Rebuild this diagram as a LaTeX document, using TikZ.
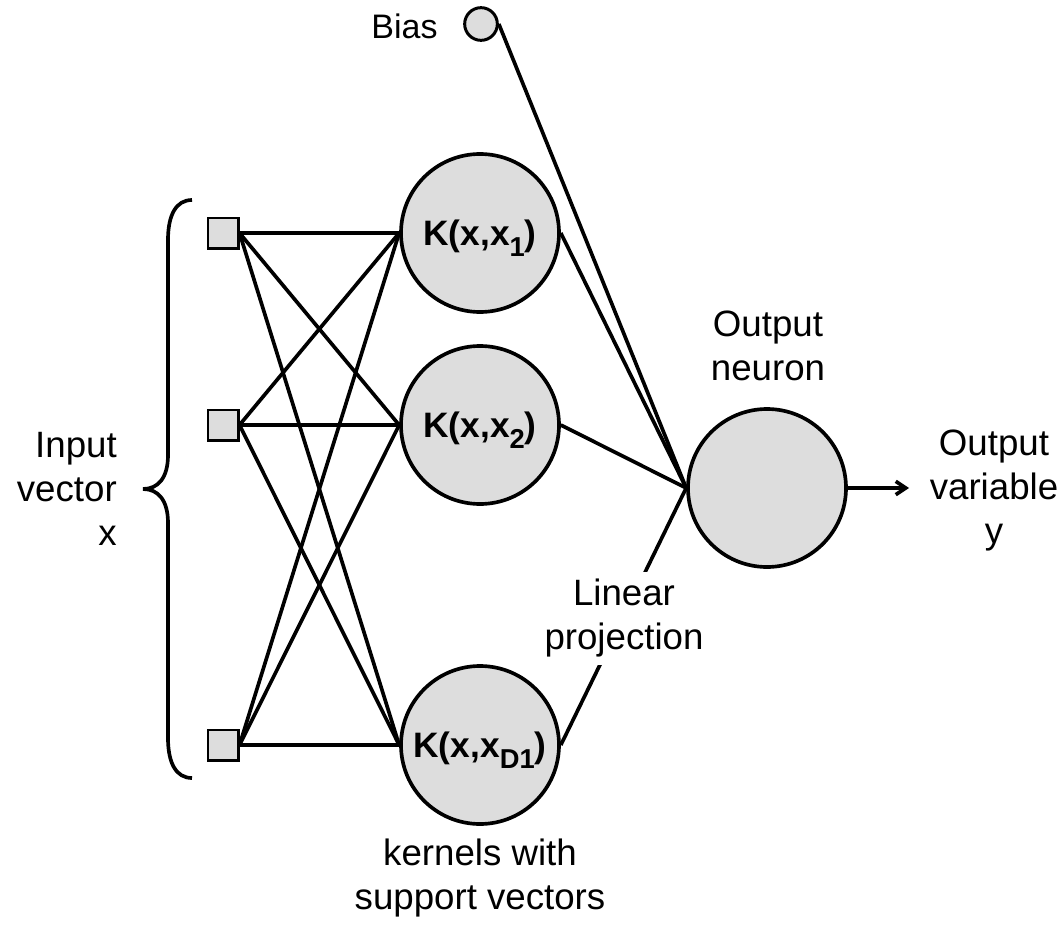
\documentclass[tikz,border=0pt]{standalone}
\usepackage{fontspec}
\setmainfont{Liberation Sans}
\usetikzlibrary{arrows.meta}
\definecolor{nodegray}{RGB}{221,221,221}
\newcommand{\mlines}[2]{\begin{tabular}[t]{@{}#1@{}}#2\end{tabular}}
\newcommand{\ksub}[1]{\raisebox{-8pt}{\fontsize{20.5}{20}\selectfont #1}}
\begin{document}
\begin{tikzpicture}[x=0.75pt,y=-0.75pt,
  lbl/.style={font=\fontsize{27.5}{33}\selectfont, inner sep=0pt},
  kern/.style={circle, draw, line width=2.75pt, fill=nodegray, minimum size=118.5pt, inner sep=0pt,
    font=\fontsize{26.5}{30}\selectfont\bfseries, text height=19pt, text depth=0pt},
  inp/.style={rectangle, draw, line width=1.75pt, fill=nodegray, minimum size=23pt, inner sep=0pt},
  biasnode/.style={circle, draw, line width=2.25pt, fill=nodegray, minimum size=24.5pt, inner sep=0pt},
  conn/.style={line width=2.75pt},
]
\useasboundingbox (0,0) rectangle (1061,928);

% nodes
\node[inp] (s1) at (223,233) {};
\node[inp] (s2) at (223,425) {};
\node[inp] (s3) at (223,745) {};
\node[kern] (k1) at (480,233) {K(x,x\ksub{1})};
\node[kern] (k2) at (480,425) {K(x,x\ksub{2})};
\node[kern] (k3) at (480,745) {K(x,x\ksub{D1})};
\node[kern] (out) at (767,488) {};
\node[biasnode] (bias) at (481,24) {};

% connectors
\foreach \s in {s1,s2,s3}
  \foreach \k in {k1,k2,k3}
    \draw[conn] (\s.east) -- (\k.west);
\foreach \k in {k1,k2,k3}
  \draw[conn] (\k.east) -- (out.west);
\draw[conn] (bias.east) -- (out.west);

\coordinate (yend) at (909,488);
\draw[conn, -{Straight Barb[length=7.5pt,width=10pt]}] (out.east) -- (yend);

% brace
\draw[line width=2.75pt] (192,200) .. controls (176,200) and (168,215) .. (168,240)
  -- (168,455) .. controls (168,478) and (158,489) .. (143,489)
  .. controls (158,489) and (168,500) .. (168,523)
  -- (168,738) .. controls (168,763) and (176,778) .. (192,778);

% labels
\node[lbl, anchor=base] (biaslbl) at (404.5,38) {\fontsize{25.5}{30}\selectfont Bias};
\node[lbl, anchor=base east] (inlbl) at (117,457) {\mlines{r}{Input\\vector\\x}};
\node[lbl, anchor=base] (outlbl) at (994,455) {\mlines{c}{Output\\variable\\y}};
\node[lbl, anchor=base] (neulbl) at (768,336) {\mlines{c}{Output\\neuron}};
\node[lbl, anchor=base, fill=white, inner sep=2pt] (linlbl) at (624,605) {\mlines{c}{Linear\\projection}};
\node[lbl, anchor=base] (kerlbl) at (480,865) {\mlines{c}{kernels with\\support vectors}};
\end{tikzpicture}
\end{document}
